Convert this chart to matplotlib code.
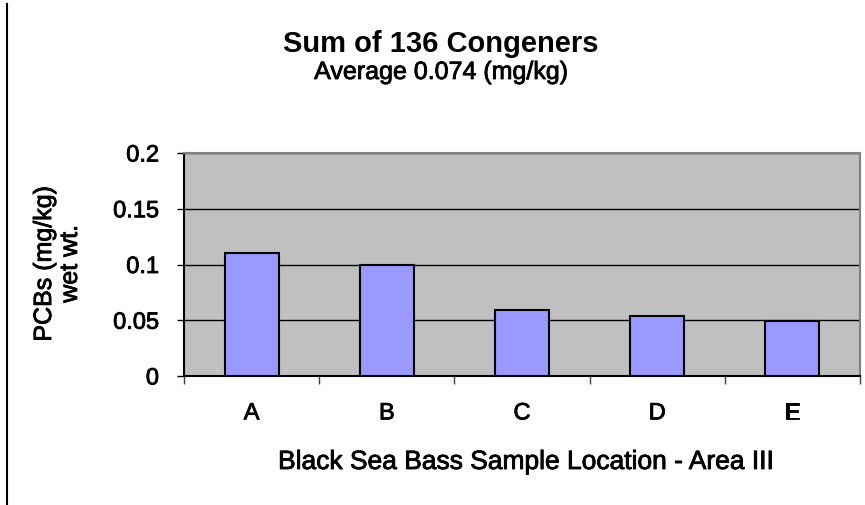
import matplotlib
matplotlib.use("Agg")
import matplotlib.pyplot as plt
from matplotlib.lines import Line2D
import matplotlib.patheffects as pe

plt.rcParams['font.family'] = ['Liberation Sans', 'DejaVu Sans']

categories = ["A", "B", "C", "D", "E"]
values = [0.110, 0.100, 0.059, 0.054, 0.049]
yticks = [0, 0.05, 0.1, 0.15, 0.2]
ytick_labels = ["0", "0.05", "0.1", "0.15", "0.2"]
title = "Sum of 136 Congeners"
subtitle = "Average 0.074 (mg/kg)"
xlabel = "Black Sea Bass Sample Location - Area III"
ylabel = "PCBs (mg/kg)\nwet wt."

heavy = [pe.withStroke(linewidth=0.6, foreground="black")]

W, H = 865, 506
fig = plt.figure(figsize=(W / 100, H / 100), dpi=100)
fig.patch.set_facecolor("white")

ax = fig.add_axes([184 / W, 1 - 377 / H, (860 - 184) / W, (377 - 154) / H])
ax.set_facecolor("#C0C0C0")
x = list(range(len(categories)))
ax.bar(x, values, width=0.4, color="#9999FF", edgecolor="black", linewidth=1.5, zorder=3)

ax.set_xlim(-0.5, len(categories) - 0.5)
ax.set_ylim(0, 0.2)
ax.set_yticks(yticks)
ax.set_yticklabels(ytick_labels, fontsize=17)
ax.yaxis.grid(True, color="black", linewidth=1.0, zorder=1)
ax.set_axisbelow(True)

ax.set_xticks(x)
ax.set_xticklabels(categories, fontsize=17)
ax.set_xticks([i - 0.5 for i in range(len(categories) + 1)], minor=True)
ax.tick_params(axis="x", which="major", length=0, pad=19)
ax.tick_params(axis="x", which="minor", length=6, width=1, color="#404040", direction="out")
ax.tick_params(axis="y", which="major", length=5, width=1, color="black", direction="out", pad=13)
for t in ax.get_xticklabels() + ax.get_yticklabels():
    t.set_path_effects(heavy)

ax.spines["left"].set_color("black")
ax.spines["bottom"].set_color("black")
ax.spines["top"].set_color("#808080")
ax.spines["right"].set_color("#808080")
for s in ax.spines.values():
    s.set_linewidth(1.5)

fig.text(441 / W, 1 - 44 / H, title, ha="center", va="center", fontsize=21, fontweight="bold")
fig.text(441 / W, 1 - 73 / H, subtitle, ha="center", va="center", fontsize=18, path_effects=heavy)
fig.text(526 / W, 1 - 463 / H, xlabel, ha="center", va="center", fontsize=19, path_effects=heavy)
fig.text(57 / W, 1 - 265 / H, ylabel, ha="center", va="center", rotation=90,
         multialignment="center", fontsize=18, linespacing=1.1, path_effects=heavy)

fig.add_artist(Line2D([7.5 / W, 7.5 / W], [1 - 5 / H, 0], transform=fig.transFigure,
                      color="black", linewidth=1.5))

fig.savefig("out.png", dpi=100)
